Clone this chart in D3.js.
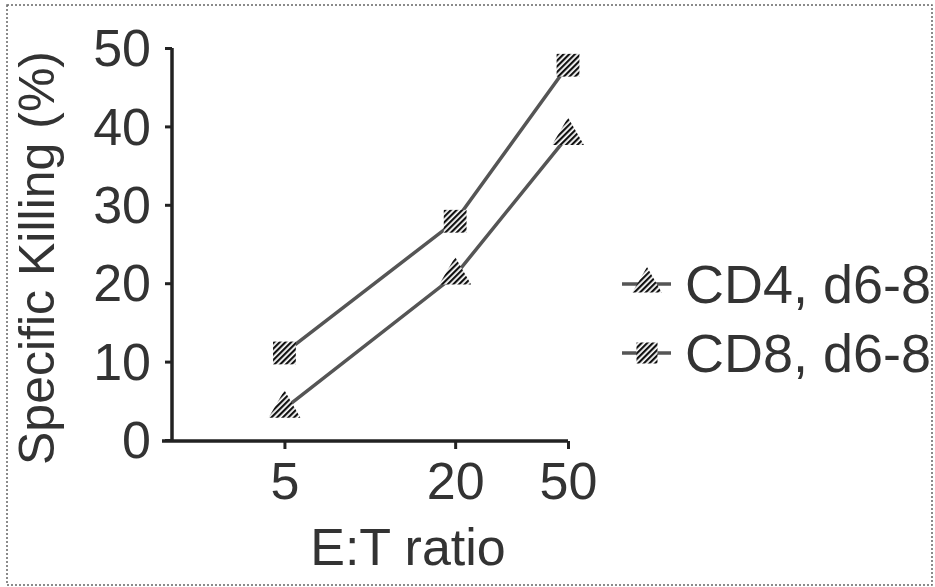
<!DOCTYPE html>
<html><head><meta charset="utf-8">
<script src="https://cdn.jsdelivr.net/npm/d3@7"></script>
<style>
html,body{margin:0;padding:0;background:#fff;}
svg{display:block;}
text{font-family:"Liberation Sans",Arial,sans-serif;fill:#333;}
</style></head>
<body>
<svg id="c" width="935" height="587"></svg>
<script>
const ratios = [5, 20, 50];
const xTickLabels = ["5", "20", "50"];
const yTicks = [0, 10, 20, 30, 40, 50];
const seriesNames = ["CD4, d6-8", "CD8, d6-8"];
const cd4Values = [4, 21, 38.8];
const cd8Values = [11.1, 27.9, 47.8];

const svg = d3.select("#c");
const ink = "#222";

// hatch pattern
const defs = svg.append("defs");
const pat = defs.append("pattern").attr("id","hatch").attr("patternUnits","userSpaceOnUse")
  .attr("width",4).attr("height",4).attr("patternTransform","rotate(45)");
pat.append("rect").attr("width",4).attr("height",4).attr("fill","#fff");
pat.append("rect").attr("width",2.2).attr("height",4).attr("fill","#111");

// border
svg.append("rect").attr("x",7).attr("y",5).attr("width",925).attr("height",580)
  .attr("fill","none").attr("stroke","#666").attr("stroke-width",1.5).attr("stroke-dasharray","2,2");

const x = d3.scaleLog().domain([1.85, 50]).range([162, 568]);
const y = d3.scaleLinear().domain([0, 50]).range([440, 48]);

// axes
const yAxis = d3.axisLeft(y).tickValues(yTicks).tickSize(7).tickPadding(14).tickFormat(d3.format("d"));
const gy = svg.append("g").attr("transform","translate(172,0)").call(yAxis);
gy.select(".domain").attr("stroke",ink).attr("stroke-width",3.5).attr("d","M-0,440V48");
gy.selectAll(".tick line").attr("stroke",ink).attr("stroke-width",3);
gy.selectAll(".tick text").attr("font-size",52).attr("fill","#333").attr("dy","0.34em")
  .attr("font-family","'Liberation Sans',Arial,sans-serif");

const xAxis = d3.axisBottom(x).tickValues(ratios).tickSize(8).tickPadding(13)
  .tickFormat((d,i)=>xTickLabels[i]);
const gx = svg.append("g").attr("transform","translate(0,441)").call(xAxis);
gx.select(".domain").attr("stroke",ink).attr("stroke-width",3.5).attr("d","M162,0H568");
gx.selectAll(".tick line").attr("stroke",ink).attr("stroke-width",3);
gx.selectAll(".tick text").attr("font-size",52).attr("fill","#333")
  .attr("font-family","'Liberation Sans',Arial,sans-serif");

// axis titles
svg.append("text").attr("x",408).attr("y",565).attr("text-anchor","middle")
  .attr("font-size",52).text("E:T ratio");
svg.append("text").attr("transform","translate(54,258) rotate(-90)").attr("text-anchor","middle")
  .attr("font-size",50).text("Specific Killing (%)");

// lines
const line = d3.line().x((d,i)=>x(ratios[i])).y(d=>y(d));
const series = [
  {name: seriesNames[0], values: cd4Values, shape: d3.symbolTriangle, size: 440},
  {name: seriesNames[1], values: cd8Values, shape: d3.symbolSquare, size: 520}
];
series.forEach(s=>{
  svg.append("path").datum(s.values).attr("d",line).attr("fill","none")
    .attr("stroke","#555").attr("stroke-width",3.5);
  svg.selectAll(null).data(s.values).enter().append("path")
    .attr("d", d3.symbol().type(s.shape).size(s.size))
    .attr("transform",(d,i)=>`translate(${x(ratios[i])},${y(d)})`)
    .attr("fill","url(#hatch)");
});

// legend
const legY = [284, 353];
series.forEach((s,i)=>{
  const g = svg.append("g").attr("transform",`translate(0,${legY[i]})`);
  g.append("line").attr("x1",622).attr("x2",671).attr("y1",0).attr("y2",0)
    .attr("stroke","#555").attr("stroke-width",3.5);
  g.append("path").attr("d", d3.symbol().type(s.shape).size(s.size*0.85))
    .attr("transform","translate(647,0)").attr("fill","url(#hatch)");
  g.append("text").attr("x",685).attr("y",0).attr("dy","0.36em").attr("font-size",54)
    .attr("textLength",246).attr("lengthAdjust","spacingAndGlyphs").text(s.name);
});
</script>
</body></html>
